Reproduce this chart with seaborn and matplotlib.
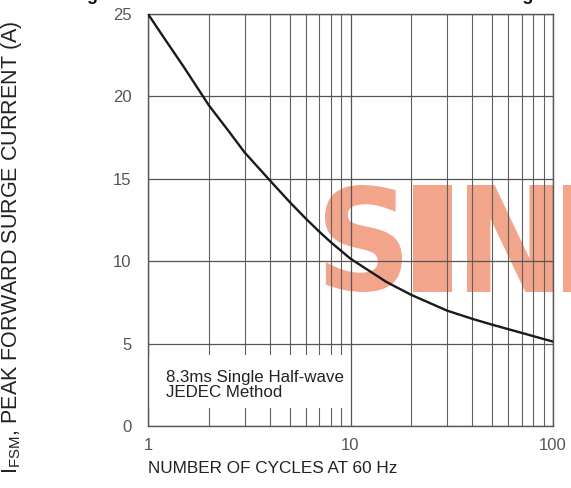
import seaborn as sns
import matplotlib.pyplot as plt
from matplotlib.patches import Rectangle, PathPatch
from matplotlib.textpath import TextPath
from matplotlib.font_manager import FontProperties
from matplotlib.transforms import Affine2D
from matplotlib.ticker import LogLocator, NullFormatter, FixedLocator

# surge current curve
cycles = [1, 1.2, 1.5, 2, 2.5, 3, 4, 5, 6, 7, 8, 10, 15, 20, 30, 40, 50, 70, 100]
current = [25, 23.55, 21.8, 19.45, 17.9, 16.6, 14.9, 13.6, 12.6, 11.8, 11.15, 10.15,
           8.75, 7.95, 7.0, 6.5, 6.15, 5.65, 5.12]
x_ticks = [1, 10, 100]
x_ticklabels = ['1', '10', '100']
y_ticks = [0, 5, 10, 15, 20, 25]

W, H = 571, 488

sns.set_style('white')
plt.rcParams['font.family'] = ['Liberation Sans', 'DejaVu Sans']

fig = plt.figure(figsize=(W / 100, H / 100), dpi=100, facecolor='white')
ax = fig.add_axes([148 / W, 1 - 426 / H, 405 / W, 412 / H])
ax.patch.set_alpha(0)
ax.set_xscale('log')
ax.set_axisbelow(True)


def block_letter(ch, x0, x1, top, bottom):
    # watermark letter stretched into a box given in figure pixels
    tp = TextPath((0, 0), ch, size=100, prop=FontProperties(family='DejaVu Sans', weight='bold'))
    ext = tp.get_extents()
    tr = (Affine2D().translate(-ext.x0, -ext.y0)
          .scale((x1 - x0) / ext.width / W, (bottom - top) / ext.height / H)
          .translate(x0 / W, 1 - bottom / H))
    fig.add_artist(PathPatch(tr.transform_path(tp), transform=fig.transFigure,
                             facecolor='#f3a58b', edgecolor='none', zorder=-1))


block_letter('S', 325, 402, 185, 292)
block_letter('I', 413, 452, 185, 292)
block_letter('N', 467, 553, 185, 292)
block_letter('E', 563, 650, 185, 292)

sns.lineplot(x=cycles, y=current, color='#1a1a1a', lw=1.7, ax=ax, zorder=3)

ax.set_xlim(1, 100)
ax.set_ylim(0, 25)
ax.xaxis.set_major_locator(FixedLocator(x_ticks))
ax.set_xticklabels(x_ticklabels)
ax.xaxis.set_minor_locator(LogLocator(base=10, subs=range(2, 10)))
ax.xaxis.set_minor_formatter(NullFormatter())
ax.set_yticks(y_ticks)

ax.grid(True, which='major', color='#555555', lw=0.9)
ax.grid(True, which='minor', axis='x', color='#5f5f5f', lw=0.8)
ax.tick_params(axis='both', which='both', length=0, labelsize=12, labelcolor='#555555')
ax.tick_params(axis='x', pad=9)
ax.tick_params(axis='y', pad=12)
for s in ax.spines.values():
    s.set_color('#555555')
    s.set_linewidth(1.0)

# white panel behind the note, hiding the grid there
ax.add_patch(Rectangle((0.003, 0.044), 0.49, 0.128, transform=ax.transAxes,
                       facecolor='white', edgecolor='none', zorder=1))
ax.text(0.045, 0.1, '8.3ms Single Half-wave\nJEDEC Method', transform=ax.transAxes,
        fontsize=12.2, color='#222222', ha='left', va='center', linespacing=1.0, zorder=4)

ax.set_xlabel('')
ax.set_ylabel('')
fig.text(148 / W, 1 - 473 / H, 'NUMBER OF CYCLES AT 60 Hz', fontsize=12.3,
         color='#222222', ha='left', va='baseline')
fig.text(12 / W, 1 - 247 / H, r'$\mathregular{I_{FSM}}$, PEAK FORWARD SURGE CURRENT (A)',
         fontsize=15.5, color='#222222', rotation=90, ha='center', va='center')

# title sitting above the top edge, only its descenders show
fig.text(71 / W, 1.0, 'Fig.3  MAXIMUM FORWARD SURGE CURRENT Rating', fontsize=13,
         fontweight='bold', color='#111111', ha='left', va='baseline')

fig.savefig('out.png', dpi=100)
